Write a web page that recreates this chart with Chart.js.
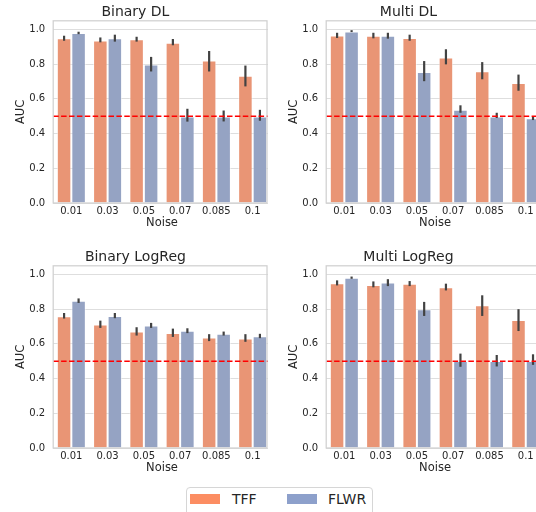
<!DOCTYPE html>
<html>
<head>
<meta charset="utf-8">
<script src="https://cdn.jsdelivr.net/npm/chart.js@4.4.0/dist/chart.umd.min.js"></script>
<style>
    html, body {
        margin: 0;
        padding: 0;
        width: 536px;
        height: 512px;
        overflow: hidden;
        background: #fff;
        position: relative;
        font-family: "DejaVu Sans", sans-serif;
    }
    .panel { position: absolute; overflow: hidden; height: 240px; }
    .legend {
        position: absolute; left: 186px; top: 487px; width: 187px; height: 40px;
        border: 1px solid #d6d6d6; border-radius: 4px; box-sizing: border-box; background: #fff;
    }
    .legend .sw { position: absolute; top: 6px; width: 30px; height: 10px; }
    .legend .txt { position: absolute; top: 3px; font-size: 14px; line-height: 16px; color: #262626; }
</style>
</head>
<body>
<script>
const noiseLevels = ['0.01', '0.03', '0.05', '0.07', '0.085', '0.1'];
const seriesNames = ['TFF', 'FLWR'];
const barColors = ['#e99575', '#95a3c3'];
const legendColors = ['#fc8d62', '#8da0cb'];
const yTicks = [0, 0.2, 0.4, 0.6, 0.8, 1.0];
const chanceLevel = 0.5;

// Binary DL
const binaryDlTff = [0.949, 0.937, 0.943, 0.924, 0.821, 0.733];
const binaryDlTffCi = [[0.935, 0.964], [0.926, 0.954], [0.930, 0.958], [0.909, 0.945], [0.758, 0.876], [0.672, 0.792]];
const binaryDlFlwr = [0.979, 0.949, 0.798, 0.499, 0.499, 0.499];
const binaryDlFlwrCi = [[0.973, 0.987], [0.930, 0.970], [0.758, 0.842], [0.469, 0.543], [0.470, 0.533], [0.474, 0.537]];

// Multi DL
const multiDlTff = [0.966, 0.964, 0.951, 0.839, 0.759, 0.691];
const multiDlTffCi = [[0.951, 0.981], [0.949, 0.981], [0.935, 0.970], [0.799, 0.886], [0.713, 0.812], [0.647, 0.740]];
const multiDlFlwr = [0.989, 0.964, 0.755, 0.537, 0.499, 0.488];
const multiDlFlwrCi = [[0.985, 0.996], [0.947, 0.981], [0.702, 0.818], [0.520, 0.563], [0.490, 0.520], [0.478, 0.496]];

// Binary LogReg
const binaryLrTff = [0.759, 0.711, 0.671, 0.663, 0.637, 0.631];
const binaryLrTffCi = [[0.746, 0.778], [0.692, 0.734], [0.648, 0.696], [0.640, 0.688], [0.616, 0.656], [0.612, 0.656]];
const binaryLrFlwr = [0.849, 0.761, 0.706, 0.675, 0.658, 0.644];
const binaryLrFlwrCi = [[0.836, 0.862], [0.748, 0.778], [0.692, 0.721], [0.662, 0.690], [0.648, 0.671], [0.633, 0.658]];

// Multi LogReg
const multiLrTff = [0.950, 0.939, 0.947, 0.927, 0.823, 0.737];
const multiLrTffCi = [[0.937, 0.966], [0.926, 0.960], [0.933, 0.962], [0.908, 0.947], [0.761, 0.880], [0.674, 0.800]];
const multiLrFlwr = [0.981, 0.954, 0.800, 0.502, 0.502, 0.502];
const multiLrFlwrCi = [[0.975, 0.988], [0.933, 0.973], [0.761, 0.842], [0.468, 0.544], [0.470, 0.536], [0.479, 0.540]];

const FONT = 'DejaVu Sans';
const TEXT = '#262626';

const errorBars = {
    id: 'errorBars',
    afterDatasetsDraw(chart) {
        const ctx = chart.ctx;
        const y = chart.scales.y;
        ctx.save();
        ctx.strokeStyle = '#424242';
        ctx.lineWidth = 2.2;
        chart.data.datasets.forEach((ds, i) => {
            chart.getDatasetMeta(i).data.forEach((bar, j) => {
                const [lo, hi] = ds.ci[j];
                ctx.beginPath();
                ctx.moveTo(bar.x, y.getPixelForValue(lo));
                ctx.lineTo(bar.x, y.getPixelForValue(hi));
                ctx.stroke();
            });
        });
        ctx.restore();
    }
};

const chanceLine = {
    id: 'chanceLine',
    afterDatasetsDraw(chart) {
        const {ctx, chartArea: a} = chart;
        const yPix = chart.scales.y.getPixelForValue(chanceLevel);
        ctx.save();
        ctx.strokeStyle = '#ff0000';
        ctx.lineWidth = 1.5;
        ctx.setLineDash([5.5, 2.4]);
        ctx.beginPath();
        ctx.moveTo(a.left, yPix);
        ctx.lineTo(a.right, yPix);
        ctx.stroke();
        ctx.restore();
    }
};

const frame = {
    id: 'frame',
    afterDatasetsDraw(chart, args, opts) {
        const {ctx, chartArea: a} = chart;
        const right = opts.right ? Math.min(opts.right, a.right) : a.right;
        ctx.save();
        ctx.strokeStyle = '#d0d0d0';
        ctx.lineWidth = 1.25;
        ctx.strokeRect(a.left, a.top, right - a.left, a.bottom - a.top);
        ctx.restore();
    }
};

function createPanel(left, top, boxWidth, canvasWidth, padRight, spineRight, title, tff, tffCi, flwr, flwrCi) {
    const box = document.createElement('div');
    box.className = 'panel';
    box.style.left = left + 'px';
    box.style.top = top + 'px';
    box.style.width = boxWidth + 'px';
    const canvas = document.createElement('canvas');
    canvas.width = canvasWidth;
    canvas.height = 240;
    box.appendChild(canvas);
    document.body.appendChild(box);

    const values = [tff, flwr];
    const cis = [tffCi, flwrCi];

    new Chart(canvas, {
        type: 'bar',
        data: {
            labels: noiseLevels,
            datasets: seriesNames.map((name, i) => ({
                label: name,
                data: values[i],
                ci: cis[i],
                backgroundColor: barColors[i],
                borderColor: 'rgba(255,255,255,0.55)',
                borderWidth: 1,
                categoryPercentage: 0.8,
                barPercentage: 1.0
            }))
        },
        options: {
            responsive: false,
            animation: false,
            layout: { padding: { left: 0, top: 0, bottom: 0, right: padRight } },
            scales: {
                x: {
                    grid: { display: false, drawTicks: false },
                    border: { display: false },
                    ticks: { font: { family: FONT, size: 10 }, color: TEXT, padding: 2 },
                    title: {
                        display: true, text: 'Noise', color: TEXT,
                        font: { family: FONT, size: 11.5 },
                        padding: { top: 0, bottom: 9.6 }
                    },
                    afterFit(scale) { scale.height = 37; }
                },
                y: {
                    min: 0,
                    max: 1.05,
                    grid: { color: '#dedede', lineWidth: 1, drawTicks: false },
                    border: { display: false },
                    ticks: {
                        padding: 8, color: TEXT,
                        font: { family: FONT, size: 10 },
                        callback: v => v.toFixed(1)
                    },
                    afterBuildTicks(scale) { scale.ticks = yTicks.map(v => ({ value: v })); },
                    title: {
                        display: true, text: 'AUC', color: TEXT,
                        font: { family: FONT, size: 11.5 },
                        padding: { top: 13.8, bottom: 0 }
                    },
                    afterFit(scale) { scale.width = 53.2; }
                }
            },
            plugins: {
                legend: { display: false },
                tooltip: { enabled: false },
                title: {
                    display: true, text: title, color: TEXT,
                    font: { family: FONT, size: 14, weight: 'normal' },
                    padding: { top: 4, bottom: 0 }
                },
                frame: { right: spineRight }
            }
        },
        plugins: [errorBars, chanceLine, frame]
    });
}

createPanel(0, 0, 268, 308, 37.2, 267, 'Binary DL', binaryDlTff, binaryDlTffCi, binaryDlFlwr, binaryDlFlwrCi);
createPanel(272.7, 0, 264, 318, 47.1, null, 'Multi DL', multiDlTff, multiDlTffCi, multiDlFlwr, multiDlFlwrCi);
createPanel(0, 245, 268, 308, 37.2, 267, 'Binary LogReg', binaryLrTff, binaryLrTffCi, binaryLrFlwr, binaryLrFlwrCi);
createPanel(272.7, 245, 264, 318, 47.1, null, 'Multi LogReg', multiLrTff, multiLrTffCi, multiLrFlwr, multiLrFlwrCi);

// legend
const legend = document.createElement('div');
legend.className = 'legend';
const swatchLeft = [3, 99.7];
const textLeft = [45, 141];
seriesNames.forEach((name, i) => {
    const sw = document.createElement('div');
    sw.className = 'sw';
    sw.style.left = swatchLeft[i] + 'px';
    sw.style.background = legendColors[i];
    const tx = document.createElement('div');
    tx.className = 'txt';
    tx.style.left = textLeft[i] + 'px';
    tx.textContent = name;
    legend.appendChild(sw);
    legend.appendChild(tx);
});
document.body.appendChild(legend);
</script>
</body>
</html>
